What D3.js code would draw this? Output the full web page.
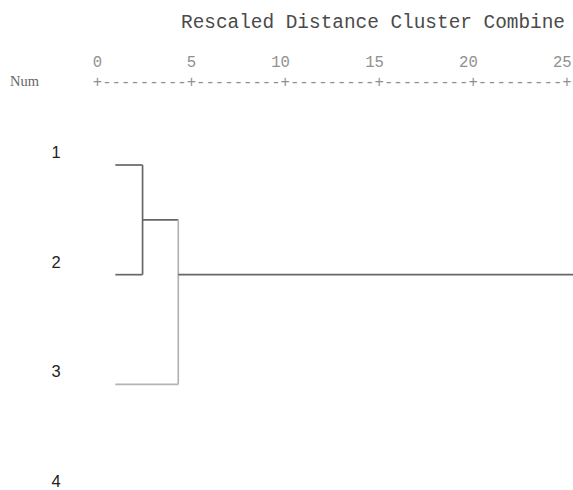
<!DOCTYPE html>
<html>
<head>
<meta charset="utf-8">
<script src="https://cdn.jsdelivr.net/npm/d3@7"></script>
<style>
  body { margin: 0; background: #fff; }
  svg { display: block; }
</style>
</head>
<body>
<div id="chart"></div>
<script>
// cases, in the order they are listed
var caseLabels = ["1", "2", "3", "4"];
// agglomeration steps: the two clusters joined, rescaled distance, row where the node sits
var stepLeft  = ["1", "m1", "m2"];
var stepRight = ["2", "3", "4"];
var stepDist  = [2.4, 4.3, 25.4];
var stepRow   = [1.5, 2, 2];
var tickValues = [0, 5, 10, 15, 20, 25];
var leafStart = 0.95;

var width = 573, height = 490;

var svg = d3.select("#chart").append("svg")
    .attr("width", width)
    .attr("height", height);

var x = d3.scaleLinear().domain([0, 25]).range([97.5, 567]);
var y = d3.scaleLinear().domain([1, 4]).range([165, 494]);

var mono = "'Liberation Mono', 'Courier New', monospace";

// title
svg.append("text")
    .attr("x", 181)
    .attr("y", 28)
    .style("font-family", mono)
    .style("font-size", "19.4px")
    .style("fill", "#4a4a4a")
    .text("Rescaled Distance Cluster Combine");

// "Num" header
svg.append("text")
    .attr("x", 10)
    .attr("y", 86)
    .style("font-family", "'Liberation Serif', 'Times New Roman', serif")
    .style("font-size", "14.5px")
    .style("fill", "#666")
    .text("Num");

// tick labels: last digit sits over the '+'
var charW = (x(5) - x(0)) / 10;
svg.selectAll(".tick-label")
    .data(tickValues)
    .enter().append("text")
    .attr("class", "tick-label")
    .attr("x", function(d) { return x(d) + charW / 2; })
    .attr("y", 67)
    .attr("text-anchor", "end")
    .style("font-family", mono)
    .style("font-size", "15.6px")
    .style("fill", "#909090")
    .text(function(d) { return d; });

// the +---------+ ruler
svg.selectAll(".plus")
    .data(tickValues)
    .enter().append("text")
    .attr("class", "plus")
    .attr("x", function(d) { return x(d); })
    .attr("y", 87)
    .attr("text-anchor", "middle")
    .style("font-family", mono)
    .style("font-size", "15.6px")
    .style("fill", "#909090")
    .text("+");

svg.selectAll(".dashes")
    .data(tickValues.slice(0, -1))
    .enter().append("text")
    .attr("class", "dashes")
    .attr("x", function(d) { return x(d) + charW / 2; })
    .attr("y", 87)
    .attr("textLength", charW * 9)
    .attr("lengthAdjust", "spacingAndGlyphs")
    .style("font-family", mono)
    .style("font-size", "15.6px")
    .style("fill", "#909090")
    .text("---------");

// case labels
svg.selectAll(".case")
    .data(caseLabels)
    .enter().append("text")
    .attr("class", "case")
    .attr("x", 56)
    .attr("y", function(d, i) { return y(i + 1) - 7; })
    .attr("text-anchor", "middle")
    .style("font-family", "'Liberation Sans', Arial, sans-serif")
    .style("font-size", "16.5px")
    .style("fill", "#222")
    .text(function(d) { return d; });

// build node positions
var nodes = {};
caseLabels.forEach(function(c, i) {
    nodes[c] = { x: leafStart, row: i + 1, leaf: true };
});

var g = svg.append("g")
    .style("fill", "none")
    .style("stroke-width", "1.7px");

var dark = "#666", light = "#b4b4b4";

stepDist.forEach(function(dist, i) {
    var a = nodes[stepLeft[i]], b = nodes[stepRight[i]];
    var colB = (stepRight[i] === "3") ? light : dark;
    // horizontal from each child to the join
    g.append("line")
        .attr("x1", x(a.x)).attr("x2", x(dist))
        .attr("y1", y(a.row)).attr("y2", y(a.row))
        .style("stroke", dark);
    g.append("line")
        .attr("x1", x(b.x)).attr("x2", x(dist))
        .attr("y1", y(b.row)).attr("y2", y(b.row))
        .style("stroke", colB);
    // vertical join
    g.append("line")
        .attr("x1", x(dist)).attr("x2", x(dist))
        .attr("y1", y(a.row)).attr("y2", y(b.row))
        .style("stroke", colB);
    nodes["m" + (i + 1)] = { x: dist, row: stepRow[i] };
});
</script>
</body>
</html>
